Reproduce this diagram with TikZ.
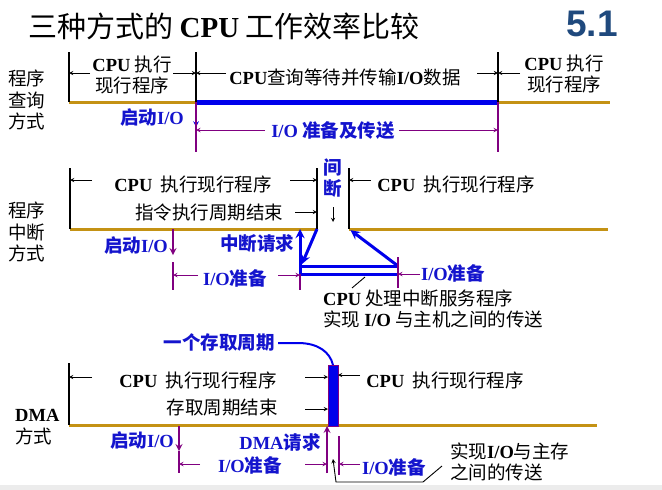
\documentclass[tikz,border=0pt]{standalone}
\usepackage{fontspec}
\setmainfont{Liberation Serif}
\newfontfamily\cjk{Noto Sans CJK SC}
\newfontfamily\arial{Liberation Sans}
\usetikzlibrary{positioning}
\definecolor{gold}{RGB}{196,146,20}
\definecolor{dblue}{RGB}{20,20,205}
\definecolor{lineblue}{RGB}{0,0,235}
\definecolor{purp}{RGB}{128,0,128}
\definecolor{numblue}{RGB}{31,73,125}
\definecolor{band}{RGB}{236,236,236}
\newcommand\lat[1]{{\rmfamily\bfseries #1}}

\begin{document}
\begin{tikzpicture}[x=1pt,y=-1pt,>=stealth,
    txt/.style={font=\cjk\fontsize{18.5}{21.5}\selectfont,inner sep=0pt,align=center},
    lbl/.style={txt,font=\cjk\bfseries\fontsize{18.5}{21.5}\selectfont,text=dblue},
    titletxt/.style={font=\cjk\fontsize{29}{32}\selectfont,inner sep=0pt},
    vline/.style={line width=1.3pt},
    arr/.style={->,line width=0.9pt},
    goldline/.style={draw=gold,line width=3pt},
    dimline/.style={draw=purp,line width=1.3pt},
    dimarr/.style={->,draw=purp,line width=1pt},
    flowline/.style={draw=lineblue,line width=3pt},
    pusharr/.style={->,draw=purp,line width=2pt}]
    \useasboundingbox (0,0) rectangle (662,490);
    \fill[band] (0,485) rectangle (662,490);
    \node[titletxt] (title) at (224,26) {三种方式的 \lat{CPU} 工作效率比较};
    \node[font=\arial\bfseries\fontsize{37}{40}\selectfont,text=numblue,inner sep=0pt] (num) at (592,24) {5.1};

    \node[txt] (p1lab) at (27,100) {程序\\查询\\方式};
    \coordinate (a1) at (69,52);  \coordinate (a2) at (69,102);
    \coordinate (b1) at (196,52); \coordinate (b2) at (196,102);
    \coordinate (c1) at (498,52); \coordinate (c2) at (498,102);
    \coordinate (e2) at (610,102);
    \draw[goldline] (a2) -- (b2) (c2) -- (e2);
    \draw[draw=lineblue,line width=5pt] (b2) -- (c2);
    \draw[vline] (a1) -- (a2) (b1) -- (b2) (c1) -- (c2);
    \node[txt] (p1a) at (132,75) {\lat{CPU} 执行\\现行程序};
    \node[txt] (p1b) at (345,77) {\lat{CPU}查询等待并传输\lat{I/O}数据};
    \node[txt] (p1c) at (564,74) {\lat{CPU} 执行\\现行程序};
    \coordinate (p1al) at (90,73);  \coordinate (p1ar) at (173,73);
    \coordinate (p1bl) at (226,73); \coordinate (p1br) at (477,73);
    \coordinate (p1cl) at (520,73);
    \draw[arr] (p1al) -- (a1 |- p1al);
    \draw[arr] (p1ar) -- (b1 |- p1ar);
    \draw[arr] (p1bl) -- (b1 |- p1bl);
    \draw[arr] (p1br) -- (c1 |- p1br);
    \draw[arr] (p1cl) -- (c1 |- p1cl);
    \node[lbl] (p1start) at (152,117) {启动\lat{I/O}};
    \coordinate (b3) at (196,127);
    \draw[->,draw=lineblue,line width=1.5pt] (b2) -- (b3);
    \coordinate (b4) at (196,152); \coordinate (c4) at (498,152);
    \draw[dimline] (b2) -- (b4) (c2) -- (c4);
    \node[lbl] (p1io) at (333,131) {\lat{I/O} 准备及传送};
    \coordinate (p1iol) at (265,130); \coordinate (p1ior) at (399,130);
    \draw[dimarr] (p1iol) -- (b2 |- p1iol);
    \draw[dimarr] (p1ior) -- (c2 |- p1ior);

    \node[txt] (p2lab) at (27,232) {程序\\中断\\方式};
    \coordinate (f1) at (70,168);  \coordinate (f2) at (70,229);
    \coordinate (g1) at (317,168); \coordinate (g2) at (317,229);
    \coordinate (h1) at (349,168); \coordinate (h2) at (349,229);
    \coordinate (k2) at (608,229);
    \draw[goldline] (f2) -- (g2) (h2) -- (k2);
    \draw[vline] (f1) -- (f2) (g1) -- (g2) (h1) -- (h2);
    \node[lbl] (p2gap) at (333,178) {间\\断};
    \coordinate (gapt) at (333,207); \coordinate (gapb) at (333,222);
    \draw[arr] (gapt) -- (gapb);
    \node[txt] (p2a) at (193,184) {\lat{CPU}\ \ 执行现行程序};
    \node[txt] (p2b) at (209,212) {指令执行周期结束};
    \node[txt] (p2c) at (456,184) {\lat{CPU}\ \ 执行现行程序};
    \coordinate (p2al) at (92,180);  \coordinate (p2ar) at (290,180);
    \coordinate (p2br) at (295,212); \coordinate (p2cl) at (371,180);
    \draw[arr] (p2al) -- (f1 |- p2al);
    \draw[arr] (p2ar) -- (g1 |- p2ar);
    \draw[arr] (p2br) -- (g1 |- p2br);
    \draw[arr] (p2cl) -- (h1 |- p2cl);
    \node[lbl] (p2start) at (136,245) {启动\lat{I/O}};
    \coordinate (s1) at (173,229); \coordinate (s2) at (173,255);
    \draw[pusharr] (s1) -- (s2);
    \node[lbl] (p2req) at (257,243) {中断请求};
    \coordinate (u1) at (300,266); \coordinate (u2) at (398,266);
    \coordinate (w1) at (300,274); \coordinate (w2) at (398,274);
    \coordinate (r2) at (300,229); \coordinate (v1) at (302,264);
    \draw[flowline] (u1) -- (u2) (w1) -- (w2);
    \draw[flowline,->] (w1) -- (r2);
    \draw[flowline,->] (g2) -- (v1);
    \draw[flowline,->,shorten >=2pt] (u2) -- (h2);
    \coordinate (s3) at (173,262); \coordinate (s4) at (173,290);
    \coordinate (r4) at (300,290);
    \coordinate (t1) at (398,257); \coordinate (t2) at (398,288);
    \draw[dimline] (s3) -- (s4) (w1) -- (r4) (t1) -- (t2);
    \node[lbl] (p2io) at (235,278) {\lat{I/O}准备};
    \node[lbl] (p2io2) at (453,273) {\lat{I/O}准备};
    \coordinate (p2iol) at (198,275); \coordinate (p2ior) at (278,275);
    \coordinate (p2io2l) at (420,274);
    \draw[dimarr] (p2iol) -- (s3 |- p2iol);
    \draw[dimarr] (p2ior) -- (w1 |- p2ior);
    \draw[dimarr] (p2io2l) -- (t1 |- p2io2l);
    \coordinate (l1) at (365,277); \coordinate (l2) at (352,288);
    \draw[line width=0.9pt] (l1) -- (l2);
    \node[txt,align=left,anchor=west] (p2serv) at (323,309) {\lat{CPU} 处理中断服务程序\\实现 \lat{I/O} 与主机之间的传送};

    \node[lbl] (p3cycle) at (219,342) {一个存取周期};
    \coordinate (q0) at (278,343); \coordinate (q1) at (333,365);
    \draw[draw=lineblue,line width=2pt] (q0) -- (298,343) .. controls (318,343) and (330,352) .. (q1);
    \coordinate (n1) at (69,363); \coordinate (n2) at (69,425);
    \coordinate (o2) at (597,425);
    \coordinate (m1) at (328,365); \coordinate (m2) at (338,426);
    \draw[goldline] (n2) -- (o2);
    \draw[vline] (n1) -- (n2);
    \draw[draw=purp,fill=lineblue,line width=1pt] (m1) rectangle (m2);
    \node[txt] (p3a) at (198,380) {\lat{CPU}\ \ 执行现行程序};
    \node[txt] (p3b) at (222,408) {存取周期结束};
    \node[txt] (p3c) at (445,380) {\lat{CPU}\ \ 执行现行程序};
    \coordinate (p3al) at (92,377);  \coordinate (p3ar) at (305,377);
    \coordinate (p3br) at (305,409); \coordinate (p3cl) at (360,375);
    \draw[arr] (p3al) -- (n1 |- p3al);
    \draw[arr] (p3ar) -- (m1 |- p3ar);
    \draw[arr] (p3br) -- (m1 |- p3br);
    \draw[arr] (p3cl) -- (m2 |- p3cl);
    \node[txt,align=left,anchor=west] (p3lab) at (15,427) {\lat{DMA}\\方式};
    \node[lbl] (p3start) at (142,440) {启动\lat{I/O}};
    \coordinate (x1) at (179,426); \coordinate (x2) at (179,451); \coordinate (x3) at (179,473);
    \draw[pusharr] (x1) -- (x2);
    \draw[dimline] (x2) -- (x3);
    \node[lbl] (p3req) at (280,442) {\lat{DMA}请求};
    \coordinate (y1) at (327,473); \coordinate (y2) at (327,426);
    \draw[pusharr] (y1) -- (y2);
    \coordinate (z1) at (339,436); \coordinate (z2) at (339,475);
    \draw[dimline] (z1) -- (z2);
    \node[lbl] (p3io) at (250,465) {\lat{I/O}准备};
    \node[lbl] (p3io2) at (394,467) {\lat{I/O}准备};
    \coordinate (p3iol) at (200,464); \coordinate (p3ior) at (305,464);
    \coordinate (p3io2l) at (360,464);
    \draw[dimarr] (p3iol) -- (x1 |- p3iol);
    \draw[dimarr] (p3ior) -- (y1 |- p3ior);
    \draw[dimarr] (p3io2l) -- (z1 |- p3io2l);
    \node[txt,align=left,anchor=west] (p3xfer) at (450,462) {实现\lat{I/O}与主存\\之间的传送};
    \coordinate (j1) at (333,459); \coordinate (j2) at (336,482);
    \coordinate (j3) at (423,482); \coordinate (j4) at (442,466);
    \draw[<-,line width=0.9pt] (j1) -- (j2) -- (j3) -- (j4);
\end{tikzpicture}
\end{document}
